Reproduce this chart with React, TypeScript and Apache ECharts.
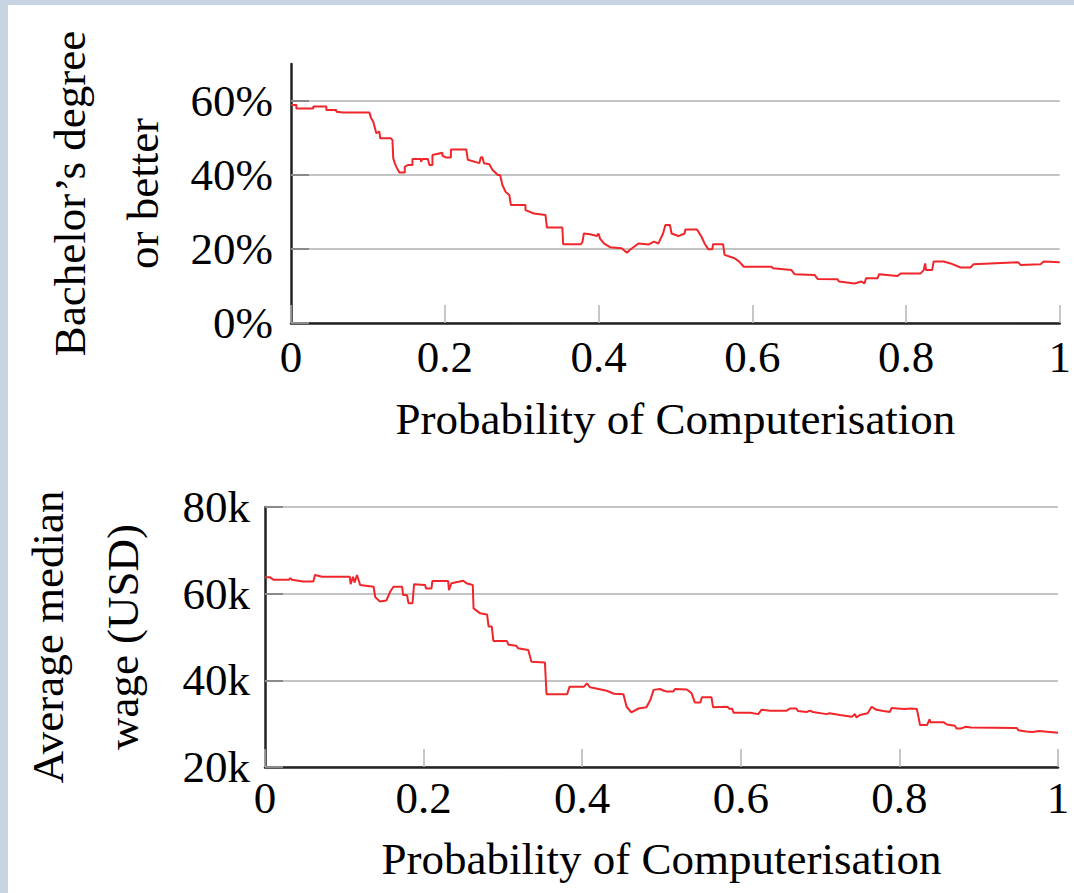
import React, { useEffect, useRef } from "react";
import * as echarts from "echarts";

const FONT = '"Liberation Serif", "Times New Roman", serif';

const X_TICKS = [0, 0.2, 0.4, 0.6, 0.8, 1];
const DEGREE_TICKS = [0, 20, 40, 60];
const WAGE_TICKS = [20, 40, 60, 80];

const X_NAME = "Probability of Computerisation";
const DEGREE_NAME = "Bachelor\u2019s degree\nor better";
const WAGE_NAME = "Average median\nwage (USD)";

// Share with bachelor's degree or better (%), by probability of computerisation
const DEGREE_P = [
  0, 0.007, 0.007, 0.029, 0.029, 0.046, 0.046, 0.059, 0.059, 0.068, 0.102, 0.104, 0.107, 0.111, 0.115, 0.116,
  0.13, 0.132, 0.133, 0.135, 0.137, 0.141, 0.148, 0.148, 0.152, 0.158, 0.158, 0.169, 0.169, 0.171, 0.178, 0.18,
  0.184, 0.184, 0.197, 0.197, 0.202, 0.208, 0.208, 0.228, 0.23, 0.245, 0.247, 0.249, 0.251, 0.258, 0.262, 0.269,
  0.272, 0.275, 0.279, 0.284, 0.286, 0.305, 0.305, 0.316, 0.331, 0.333, 0.353, 0.354, 0.377, 0.379, 0.381, 0.389,
  0.398, 0.4, 0.402, 0.407, 0.415, 0.43, 0.437, 0.441, 0.452, 0.465, 0.472, 0.478, 0.484, 0.487, 0.493, 0.495,
  0.504, 0.512, 0.513, 0.528, 0.534, 0.538, 0.543, 0.548, 0.549, 0.562, 0.564, 0.577, 0.583, 0.589, 0.625, 0.627,
  0.651, 0.655, 0.681, 0.685, 0.711, 0.713, 0.733, 0.742, 0.746, 0.748, 0.763, 0.765, 0.789, 0.793, 0.819, 0.823,
  0.825, 0.826, 0.834, 0.836, 0.849, 0.858, 0.871, 0.884, 0.888, 0.946, 0.949, 0.975, 0.979, 1.0,
];
const DEGREE_PCT = [
  58.9, 58.9, 58.0, 58.0, 58.5, 58.5, 57.6, 57.6, 57.1, 56.9, 56.9, 55.5, 54.4, 51.3, 51.7, 49.9,
  49.9, 49.4, 44.5, 43.2, 42.2, 40.7, 40.7, 42.2, 42.7, 42.7, 44.3, 44.3, 43.6, 44.3, 44.3, 42.7,
  42.7, 45.4, 46.0, 45.2, 44.7, 44.7, 46.9, 46.9, 44.1, 43.2, 44.8, 44.8, 43.2, 42.9, 41.4, 40.0,
  40.0, 37.3, 35.5, 34.6, 31.9, 31.9, 30.5, 29.6, 29.2, 25.8, 25.8, 21.3, 21.3, 21.8, 24.2, 24.0,
  23.5, 24.2, 22.8, 21.5, 20.5, 20.2, 19.0, 19.8, 21.5, 21.2, 22.0, 21.5, 24.2, 26.5, 26.5, 24.2,
  23.5, 24.2, 25.3, 25.3, 23.3, 21.5, 19.9, 19.9, 21.3, 21.3, 18.4, 17.5, 16.6, 15.2, 15.2, 14.8,
  14.3, 13.2, 13.0, 11.9, 11.8, 11.2, 10.7, 11.2, 10.7, 12.1, 12.1, 13.2, 12.7, 13.4, 13.4, 14.3,
  16.1, 14.3, 14.3, 16.6, 16.6, 16.1, 15.0, 15.0, 15.9, 16.4, 15.7, 15.9, 16.6, 16.4,
];

// Average median wage (thousand USD), by probability of computerisation
const WAGE_P = [
  0, 0.006, 0.011, 0.03, 0.032, 0.034, 0.048, 0.061, 0.063, 0.072, 0.107, 0.108, 0.111, 0.113, 0.116, 0.12,
  0.137, 0.139, 0.145, 0.153, 0.158, 0.162, 0.173, 0.174, 0.179, 0.181, 0.186, 0.188, 0.202, 0.203, 0.21, 0.211,
  0.231, 0.232, 0.235, 0.25, 0.254, 0.262, 0.263, 0.271, 0.28, 0.282, 0.286, 0.288, 0.305, 0.307, 0.317, 0.319,
  0.332, 0.336, 0.353, 0.355, 0.381, 0.384, 0.402, 0.406, 0.41, 0.431, 0.44, 0.452, 0.456, 0.462, 0.471, 0.481,
  0.486, 0.49, 0.498, 0.503, 0.507, 0.515, 0.517, 0.532, 0.538, 0.542, 0.549, 0.551, 0.563, 0.565, 0.583, 0.586,
  0.589, 0.591, 0.612, 0.622, 0.626, 0.637, 0.658, 0.662, 0.67, 0.672, 0.683, 0.687, 0.691, 0.708, 0.712, 0.725,
  0.74, 0.744, 0.746, 0.75, 0.76, 0.765, 0.771, 0.78, 0.788, 0.79, 0.806, 0.815, 0.822, 0.824, 0.826, 0.835,
  0.838, 0.839, 0.856, 0.86, 0.87, 0.872, 0.878, 0.884, 0.89, 0.948, 0.95, 0.96, 0.968, 0.976, 1.0,
];
const WAGE_K = [
  63.8, 63.8, 63.2, 63.2, 63.6, 63.2, 62.8, 62.8, 64.3, 63.9, 63.9, 62.2, 63.9, 62.6, 64.3, 62.0,
  61.6, 59.2, 58.2, 58.4, 60.5, 61.6, 61.6, 59.7, 59.7, 57.8, 57.8, 62.2, 62.0, 61.2, 61.2, 62.9,
  62.9, 60.8, 62.4, 63.0, 62.4, 62.0, 56.6, 55.5, 55.2, 52.4, 52.4, 49.1, 49.1, 48.2, 48.0, 47.4,
  47.0, 44.3, 44.1, 36.8, 36.8, 38.5, 38.5, 39.3, 38.4, 37.6, 36.9, 36.8, 33.9, 32.6, 33.5, 33.8,
  35.5, 37.8, 38.0, 37.6, 37.4, 37.4, 38.0, 37.9, 37.0, 34.9, 34.9, 36.1, 36.1, 33.8, 33.9, 33.4,
  33.5, 32.5, 32.5, 32.2, 33.2, 33.0, 33.0, 33.5, 33.5, 32.9, 32.7, 33.0, 32.7, 32.2, 32.4, 32.0,
  31.6, 32.2, 31.4, 32.0, 32.4, 33.9, 33.2, 32.9, 32.7, 33.6, 33.4, 33.5, 33.4, 31.6, 29.7, 29.7,
  31.0, 30.3, 30.3, 29.8, 29.5, 28.9, 28.9, 29.3, 29.1, 29.0, 28.5, 28.2, 28.1, 28.3, 27.9,
];

const zip = (xs: number[], ys: number[]) => xs.map((x, i) => [x, ys[i]]);

const textBase = { fontFamily: FONT, fontSize: 45, color: "#000", lineHeight: 45 };

function xAxis(gridIndex: number, labelMargin: number, nameGap: number) {
  return {
    type: "value",
    gridIndex,
    min: 0,
    max: 1,
    interval: 0.2,
    name: X_NAME,
    nameLocation: "middle",
    nameGap,
    nameTextStyle: { ...textBase },
    axisLine: { show: true, onZero: false, lineStyle: { color: "#222", width: 2.5 } },
    axisTick: {
      show: true,
      inside: true,
      length: 18,
      customValues: X_TICKS,
      lineStyle: { color: "#b4b4b4", width: 1.5 },
    },
    axisLabel: {
      ...textBase,
      margin: labelMargin,
      customValues: X_TICKS,
      formatter: (v: number) => String(+v.toFixed(1)),
    },
    splitLine: { show: false },
  };
}

function yAxis(
  gridIndex: number,
  min: number,
  max: number,
  ticks: number[],
  suffix: string,
  name: string,
  nameGap: number,
  nameLineHeight: number,
  labelMargin: number
) {
  return {
    type: "value",
    gridIndex,
    min,
    max,
    interval: 20,
    name,
    nameLocation: "middle",
    nameRotate: 90,
    nameGap,
    nameTextStyle: { ...textBase, lineHeight: nameLineHeight },
    axisLine: { show: true, onZero: false, lineStyle: { color: "#222", width: 2.5 } },
    axisTick: {
      show: true,
      inside: true,
      length: 18,
      customValues: ticks,
      lineStyle: { color: "#8a8a8a", width: 2 },
    },
    axisLabel: {
      ...textBase,
      margin: labelMargin,
      customValues: ticks,
      formatter: (v: number) => `${v}${suffix}`,
    },
    splitLine: {
      show: true,
      lineStyle: { color: "#c4c4c4", width: 2 },
    },
  };
}

export default function App() {
  const ref = useRef<HTMLDivElement>(null);

  useEffect(() => {
    if (!ref.current) return;
    const chart = echarts.init(ref.current, undefined, { renderer: "svg" });
    chart.setOption({
      animation: false,
      backgroundColor: "transparent",
      grid: [
        { left: 291, top: 64, width: 772, height: 259 },
        { left: 265, top: 507, width: 793, height: 260 },
      ],
      xAxis: [xAxis(0, 11, 73), xAxis(1, 8, 69)],
      yAxis: [
        yAxis(0, 0, 70, DEGREE_TICKS, "%", DEGREE_NAME, 111, 73, 18),
        yAxis(1, 20, 80, WAGE_TICKS, "k", WAGE_NAME, 105, 75, 15),
      ],
      series: [
        {
          type: "line",
          xAxisIndex: 0,
          yAxisIndex: 0,
          data: zip(DEGREE_P, DEGREE_PCT),
          showSymbol: false,
          lineStyle: { color: "#f0262a", width: 2 },
          itemStyle: { color: "#f0262a" },
        },
        {
          type: "line",
          xAxisIndex: 1,
          yAxisIndex: 1,
          data: zip(WAGE_P, WAGE_K),
          showSymbol: false,
          lineStyle: { color: "#f0262a", width: 2 },
          itemStyle: { color: "#f0262a" },
        },
      ],
    });
    return () => chart.dispose();
  }, []);

  return (
    <div
      style={{
        position: "fixed",
        left: 0,
        top: 0,
        width: 1074,
        height: 893,
        background: "#c8d4e1",
      }}
    >
      <div
        style={{
          position: "absolute",
          left: 8,
          top: 5,
          right: 0,
          bottom: 0,
          background: "#ffffff",
        }}
      />
      <div ref={ref} style={{ position: "absolute", left: 0, top: 0, width: 1074, height: 893 }} />
    </div>
  );
}
